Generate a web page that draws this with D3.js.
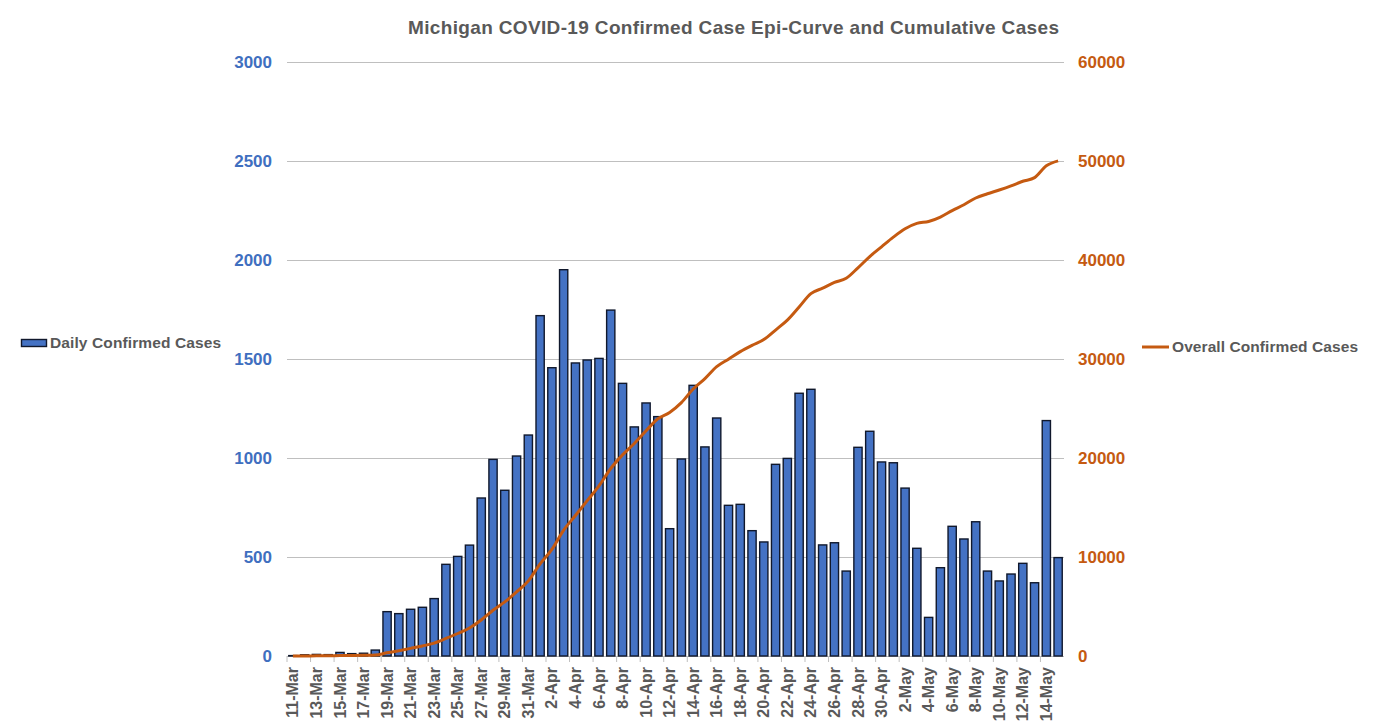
<!DOCTYPE html>
<html>
<head>
<meta charset="utf-8">
<script src="https://cdn.jsdelivr.net/npm/d3@7"></script>
<style>
html, body { margin: 0; padding: 0; background: #fff; }
svg { display: block; }
text { font-family: "Liberation Sans", Arial, sans-serif; font-weight: bold; }
</style>
</head>
<body>
<div id="chartBox"></div>
<script>
var dates = ['11-Mar','12-Mar','13-Mar','14-Mar','15-Mar','16-Mar','17-Mar','18-Mar','19-Mar','20-Mar','21-Mar',
	'22-Mar','23-Mar','24-Mar','25-Mar','26-Mar','27-Mar','28-Mar','29-Mar','30-Mar','31-Mar',
	'1-Apr','2-Apr','3-Apr','4-Apr','5-Apr','6-Apr','7-Apr','8-Apr','9-Apr','10-Apr',
	'11-Apr','12-Apr','13-Apr','14-Apr','15-Apr','16-Apr','17-Apr','18-Apr','19-Apr','20-Apr',
	'21-Apr','22-Apr','23-Apr','24-Apr','25-Apr','26-Apr','27-Apr','28-Apr','29-Apr','30-Apr',
	'1-May','2-May','3-May','4-May','5-May','6-May','7-May','8-May','9-May','10-May',
	'11-May','12-May','13-May','14-May','15-May'];
var dailyCases = [2,6,8,7,18,12,14,30,224,214,236,
	246,290,463,503,560,798,993,837,1010,1116,
	1719,1456,1951,1480,1495,1503,1747,1377,1157,1278,
	1209,643,995,1367,1056,1202,761,766,633,576,
	968,998,1327,1347,561,572,429,1054,1135,980,
	976,848,544,195,446,655,591,678,429,379,
	414,468,370,1189,497];
var overallCases = [2,8,16,23,41,53,67,97,321,535,771,
	1017,1307,1770,2273,2833,3631,4624,5461,6471,7587,
	9306,10762,12713,14193,15688,17191,18938,20315,21472,22750,
	23959,24602,25597,26964,28020,29222,29983,30749,31382,31958,
	32926,33924,35251,36598,37159,37731,38160,39214,40349,41329,
	42305,43153,43697,43892,44338,44993,45584,46262,46691,47070,
	47484,47952,48322,49511,50008];
var leftTicks = [0,500,1000,1500,2000,2500,3000];
var rightTicks = [0,10000,20000,30000,40000,50000,60000];

var blue = '#4472c4', blueText = '#3f6fc0', orange = '#c55a11', grey = '#595959';
var plotLeft = 287, plotRight = 1064, plotTop = 62, plotBottom = 656;

var main = d3.select('#chartBox').append('svg')
	.attr('width', 1379)
	.attr('height', 726);

var xScale = d3.scaleBand()
	.domain(dates)
	.range([plotLeft, plotRight])
	.paddingInner(0.3)
	.paddingOuter(0.15);
var yLeft = d3.scaleLinear().domain([0, 3000]).range([plotBottom, plotTop]);
var yRight = d3.scaleLinear().domain([0, 60000]).range([plotBottom, plotTop]);

// gridlines
main.append('g').selectAll('line')
	.data(leftTicks)
	.enter()
	.append('line')
	.attr('x1', plotLeft)
	.attr('x2', plotRight)
	.attr('y1', d => yLeft(d) + 0.5)
	.attr('y2', d => yLeft(d) + 0.5)
	.attr('stroke', '#bfbfbf')
	.attr('stroke-width', 1);

// bars
main.append('g').selectAll('rect')
	.data(dailyCases)
	.enter()
	.append('rect')
	.attr('x', (d, i) => xScale(dates[i]))
	.attr('y', d => yLeft(d))
	.attr('width', xScale.bandwidth())
	.attr('height', d => yLeft(0) - yLeft(d))
	.attr('fill', blue)
	.attr('stroke', '#10182c')
	.attr('stroke-width', 1.4);

// a tick every second date
var labelDates = dates.filter((d, i) => i % 2 == 0);
var step = xScale.step();
main.append('g').selectAll('line')
	.data(labelDates)
	.enter()
	.append('line')
	.attr('x1', d => xScale(d) - step * 0.15)
	.attr('x2', d => xScale(d) - step * 0.15)
	.attr('y1', plotBottom)
	.attr('y2', plotBottom + 6)
	.attr('stroke', '#bfbfbf');

var xAxis = main.append('g')
	.attr('transform', 'translate(0,' + plotBottom + ')')
	.call(d3.axisBottom(xScale).tickValues(labelDates).tickSize(0));
xAxis.select('.domain').remove();
xAxis.selectAll('text')
	.attr('x', null)
	.attr('y', null)
	.attr('dy', '0.35em')
	.attr('text-anchor', 'end')
	.attr('fill', grey)
	.style('font-size', '16px')
	.attr('transform', 'translate(0,11) rotate(-90)');

// left and right value labels
var leftAxis = main.append('g')
	.attr('transform', 'translate(' + plotLeft + ',0)')
	.call(d3.axisLeft(yLeft).tickValues(leftTicks).tickFormat(d3.format('d')).tickSize(0).tickPadding(15));
leftAxis.select('.domain').remove();
leftAxis.selectAll('text').attr('fill', blueText).style('font-size', '17px');

var rightAxis = main.append('g')
	.attr('transform', 'translate(' + plotRight + ',0)')
	.call(d3.axisRight(yRight).tickValues(rightTicks).tickFormat(d3.format('d')).tickSize(0).tickPadding(14));
rightAxis.select('.domain').remove();
rightAxis.selectAll('text').attr('fill', orange).style('font-size', '17px');

// cumulative line
var line = d3.line()
	.x((d, i) => xScale(dates[i]) + xScale.bandwidth() / 2)
	.y(d => yRight(d))
	.curve(d3.curveMonotoneX);
main.append('path')
	.datum(overallCases)
	.attr('d', line)
	.attr('fill', 'none')
	.attr('stroke', orange)
	.attr('stroke-width', 3)
	.attr('stroke-linejoin', 'round');

// title
main.append('text')
	.text('Michigan COVID-19 Confirmed Case Epi-Curve and Cumulative Cases')
	.attr('x', 408)
	.attr('y', 34)
	.attr('fill', grey)
	.attr('textLength', 651)
	.style('font-size', '19px');

// legends
main.append('rect')
	.attr('x', 21.5)
	.attr('y', 339.5)
	.attr('width', 25)
	.attr('height', 7)
	.attr('fill', blue)
	.attr('stroke', '#10182c')
	.attr('stroke-width', 1.4);
main.append('text')
	.text('Daily Confirmed Cases')
	.attr('x', 50)
	.attr('y', 348)
	.attr('fill', grey)
	.attr('textLength', 171)
	.style('font-size', '15.5px');

main.append('line')
	.attr('x1', 1142)
	.attr('x2', 1169)
	.attr('y1', 347)
	.attr('y2', 347)
	.attr('stroke', orange)
	.attr('stroke-width', 3);
main.append('text')
	.text('Overall Confirmed Cases')
	.attr('x', 1172)
	.attr('y', 352)
	.attr('fill', grey)
	.attr('textLength', 186)
	.style('font-size', '15.5px');
</script>
</body>
</html>
